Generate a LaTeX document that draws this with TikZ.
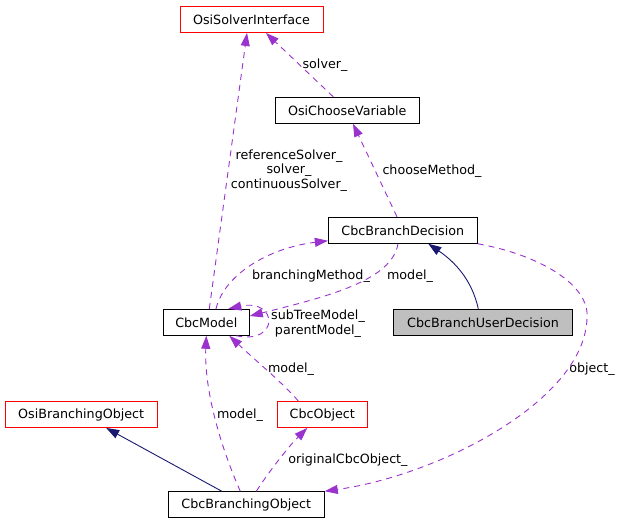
\documentclass[tikz,border=0pt]{standalone}
\usepackage{fontspec}
\setmainfont{DejaVu Sans}
\usetikzlibrary{arrows.meta}
\definecolor{edgepurple}{HTML}{9A32CD}
\definecolor{inhnavy}{HTML}{191970}
\definecolor{boxred}{HTML}{FF0000}
\definecolor{boxgray}{HTML}{BFBFBF}
\begin{document}
\begin{tikzpicture}[x=1pt,y=-1pt,
  every node/.style={font=\fontsize{12.7}{14.7}\selectfont},
  cls/.style={draw=black, line width=0.9pt, minimum height=26pt, inner sep=0pt, anchor=center},
  redcls/.style={cls, draw=boxred},
  graycls/.style={cls, fill=boxgray},
  use/.style={draw=edgepurple, line width=0.9pt, dash pattern=on 6pt off 5pt, -{Triangle[length=13pt,width=9pt,fill=edgepurple]}},
  inh/.style={draw=inhnavy, line width=0.9pt, -{Triangle[length=13pt,width=9pt,fill=inhnavy]}},
  lbl/.style={inner sep=0pt, align=center}
]
\useasboundingbox (0,0) rectangle (621,522);

\node[redcls, minimum width=143pt] (osi) at (251.5,19.5) {OsiSolverInterface};
\node[cls, minimum width=144pt] (ocv) at (347.3,110.3) {OsiChooseVariable};
\node[cls, minimum width=149pt] (cbd) at (402.8,230.3) {CbcBranchDecision};
\node[graycls, minimum width=179pt] (cbud) at (483,322.3) {CbcBranchUserDecision};
\node[cls, minimum width=86pt] (cm) at (206.3,322.3) {CbcModel};
\node[redcls, minimum width=152pt] (obo) at (81.2,414.5) {OsiBranchingObject};
\node[redcls, minimum width=90pt] (co) at (322.3,414.5) {CbcObject};
\node[cls, minimum width=156pt] (cbo) at (246.3,504.7) {CbcBranchingObject};

% edges
\draw[use] ([xshift=3pt]cm.north) -- ([xshift=-4.5pt]osi.south);
\draw[use] ([xshift=-14pt]ocv.north) -- ([xshift=14.5pt]osi.south);
\draw[use] ([xshift=-5.8pt]cbd.north) -- ([xshift=5.7pt]ocv.south);
\draw[use] ([xshift=9.7pt]cm.north) .. controls (224,275) and (268,248) .. ([yshift=3pt]cbd.south west);
\draw[use] ([xshift=-4.8pt]cbd.south) .. controls (392,280) and (330,296) .. ([yshift=6.3pt]cm.east);
\draw[use] ([xshift=30pt]cm.south) .. controls (280,345) and (278,298) .. ([xshift=22pt]cm.north);
\draw[use] ([xshift=-24pt]co.north) .. controls (285,385) and (255,360) .. ([xshift=23pt]cm.south);
\draw[use] ([xshift=-6pt]cbo.north) .. controls (222,450) and (204,392) .. (cm.south);
\draw[use] ([xshift=10pt]cbo.north) .. controls (270,470) and (290,445) .. ([xshift=-15pt]co.south);
\draw[inh] ([xshift=-24.5pt]cbo.north) -- ([xshift=25pt]obo.south);
\draw[inh] ([xshift=-4.7pt]cbud.north) .. controls (472,280) and (455,262) .. ([xshift=25.5pt]cbd.south);
\draw[use] (cbd.south east) .. controls (540,255) and (590,285) .. (587,318) .. controls (585,400) and (440,475) .. (cbo.north east);

% labels
\node[lbl] (l1) at (289,170.5) {referenceSolver\_\\solver\_\\continuousSolver\_};
\node[lbl] (l2) at (325,65) {solver\_};
\node[lbl] (l3) at (432,171) {chooseMethod\_};
\node[lbl] (l4) at (311,276) {branchingMethod\_};
\node[lbl] (l5) at (410,276) {model\_};
\node[lbl] (l6) at (318,323.5) {subTreeModel\_\\parentModel\_};
\node[lbl] (l7) at (291,369) {model\_};
\node[lbl] (l8) at (240,415) {model\_};
\node[lbl] (l9) at (348,460) {originalCbcObject\_};
\node[lbl] (l10) at (592,369) {object\_};
\end{tikzpicture}
\end{document}
